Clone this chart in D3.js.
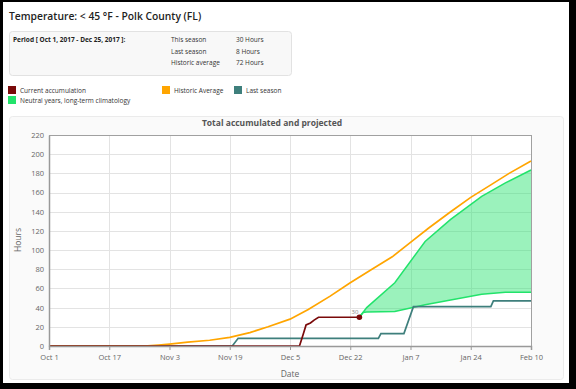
<!DOCTYPE html>
<html>
<head>
<meta charset="utf-8">
<script src="https://cdn.jsdelivr.net/npm/d3@7"></script>
<style>
  body { margin: 0; background: #000; }
  svg { display: block; font-family: "Open Sans", sans-serif; }
</style>
</head>
<body>
<div id="chart"></div>
<script>
// days counted from Oct 1, 2017
var tickDays = [0, 16.5, 33, 49.5, 66, 82.5, 99, 115.5, 132];
var tickLabels = ["Oct 1", "Oct 17", "Nov 3", "Nov 19", "Dec 5", "Dec 22", "Jan 7", "Jan 24", "Feb 10"];
var yTicks = [0, 20, 40, 60, 80, 100, 120, 140, 160, 180, 200, 220];

var historicDays = [0, 26, 30, 33, 38, 44, 49.5, 55, 60, 66, 71, 77, 82.5, 88, 94, 99, 104, 110, 115.5, 121, 126, 132];
var historicVals = [0, 0, 1, 2, 4, 6, 9, 14, 20, 28, 38, 52, 66, 79, 93, 108, 123, 140, 155, 168, 180, 193];

var currentDays = [0, 68.6, 69.6, 70.4, 71.6, 72.6, 73.8, 85];
var currentVals = [0, 0, 12, 22, 24, 27, 30, 30];

var lastDays = [0, 50.2, 51.8, 90.2, 90.9, 97.2, 99.8, 121, 121.7, 132];
var lastVals = [0, 0, 8, 8, 13, 13, 41, 41, 47, 47];

var climDays = [85, 86, 87, 94.7, 103, 110, 118.5, 125, 132];
var climLow = [30, 35, 35.5, 36, 43, 48, 54, 56, 56];
var climHigh = [30, 35, 40, 66, 109, 132, 156, 170, 183.5];

var summaryLabels = ["This season", "Last season", "Historic average"];
var summaryValues = ["30 Hours", "8 Hours", "72 Hours"];

var red = "#7a0a0a", orange = "#ffa500", teal = "#3e7f7c", green = "#22e36b";

var W = 576, H = 389;
var svg = d3.select("#chart").append("svg").attr("width", W).attr("height", H);

svg.append("rect").attr("width", W).attr("height", H).attr("fill", "#000");
svg.append("rect").attr("x", 3).attr("y", 2).attr("width", 566).attr("height", 381).attr("fill", "#fff");

svg.append("text").attr("x", 9).attr("y", 20)
  .attr("font-size", 10.3).attr("font-weight", 600).attr("fill", "#222")
  .text("Temperature: < 45 °F - Polk County (FL)");

// summary box
svg.append("rect").attr("x", 9.5).attr("y", 31.5).attr("width", 282).attr("height", 44)
  .attr("rx", 3).attr("fill", "#f8f8f8").attr("stroke", "#e2e2e2");
svg.append("text").attr("x", 13).attr("y", 42).attr("font-size", 6.5).attr("font-weight", 700)
  .attr("fill", "#222").text("Period [ Oct 1, 2017 - Dec 25, 2017 ]:");
summaryLabels.forEach(function(l, i) {
  svg.append("text").attr("x", 171).attr("y", 42 + i * 11.5).attr("font-size", 6.5).attr("fill", "#333").text(l);
  svg.append("text").attr("x", 236).attr("y", 42 + i * 11.5).attr("font-size", 6.5).attr("fill", "#333").text(summaryValues[i]);
});

// legend
var legend = [
  {c: red, t: "Current accumulation", x: 8, y: 86},
  {c: green, t: "Neutral years, long-term climatology", x: 8, y: 96},
  {c: orange, t: "Historic Average", x: 162, y: 86},
  {c: teal, t: "Last season", x: 234, y: 86}
];
legend.forEach(function(d) {
  svg.append("rect").attr("x", d.x).attr("y", d.y).attr("width", 8).attr("height", 8).attr("fill", d.c);
  svg.append("text").attr("x", d.x + 12).attr("y", d.y + 6.5).attr("font-size", 6.5).attr("fill", "#333").text(d.t);
});

// chart panel
svg.append("rect").attr("x", 9.5).attr("y", 116.5).attr("width", 554).attr("height", 263)
  .attr("rx", 3).attr("fill", "#fafafa").attr("stroke", "#ebebeb");
svg.append("text").attr("x", 272).attr("y", 126).attr("text-anchor", "middle")
  .attr("font-size", 8.5).attr("font-weight", 700).attr("fill", "#555")
  .text("Total accumulated and projected");

var m = {l: 49, r: 531, t: 135, b: 346};
var x = d3.scaleLinear().domain([0, 132]).range([m.l, m.r]);
var y = d3.scaleLinear().domain([0, 220]).range([m.b, m.t]);

svg.append("rect").attr("x", m.l).attr("y", m.t).attr("width", m.r - m.l).attr("height", m.b - m.t).attr("fill", "#fff");

var grid = svg.append("g").attr("stroke", "#e3e3e3").attr("stroke-width", 1);
grid.selectAll(".h").data(yTicks).enter().append("line")
  .attr("x1", m.l).attr("x2", m.r).attr("y1", function(d) { return Math.round(y(d)) + 0.5; }).attr("y2", function(d) { return Math.round(y(d)) + 0.5; });
grid.selectAll(".v").data(tickDays).enter().append("line")
  .attr("y1", m.t).attr("y2", m.b).attr("x1", function(d) { return Math.round(x(d)) + 0.5; }).attr("x2", function(d) { return Math.round(x(d)) + 0.5; });

// frame top/right
svg.append("rect").attr("x", m.l + 0.5).attr("y", m.t + 0.5).attr("width", m.r - m.l).attr("height", m.b - m.t)
  .attr("fill", "none").attr("stroke", "#a0a0a0");

function pts(days, vals) { return days.map(function(d, i) { return [d, vals[i]]; }); }

var line = d3.line().x(function(d) { return x(d[0]); }).y(function(d) { return y(d[1]); });

var climPts = climDays.map(function(d, i) { return [d, climLow[i], climHigh[i]]; });
var area = d3.area().x(function(d) { return x(d[0]); }).y0(function(d) { return y(d[1]); }).y1(function(d) { return y(d[2]); });

svg.append("path").datum(climPts).attr("d", area).attr("fill", green).attr("fill-opacity", 0.45);
svg.append("path").datum(pts(climDays, climHigh)).attr("d", line).attr("fill", "none").attr("stroke", green).attr("stroke-width", 1.5);
svg.append("path").datum(pts(climDays, climLow)).attr("d", line).attr("fill", "none").attr("stroke", green).attr("stroke-width", 1.5);

svg.append("path").datum(pts(lastDays, lastVals)).attr("d", line).attr("fill", "none").attr("stroke", teal).attr("stroke-width", 1.7);
svg.append("path").datum(pts(historicDays, historicVals)).attr("d", line).attr("fill", "none").attr("stroke", orange).attr("stroke-width", 1.7);
svg.append("path").datum(pts(currentDays, currentVals)).attr("d", line).attr("fill", "none").attr("stroke", red).attr("stroke-width", 1.7);

var lastI = currentDays.length - 1;
svg.append("circle").attr("cx", x(currentDays[lastI])).attr("cy", y(currentVals[lastI])).attr("r", 2.8).attr("fill", red);
svg.append("text").attr("x", x(currentDays[lastI]) - 1).attr("y", y(currentVals[lastI]) - 3)
  .attr("text-anchor", "end").attr("font-size", 6).attr("fill", "#888").text(currentVals[lastI]);

// axes
var xAxis = svg.append("g").attr("transform", "translate(0," + m.b + ")")
  .call(d3.axisBottom(x).tickValues(tickDays).tickFormat(function(d, i) { return tickLabels[i]; }).tickSize(4));
var yAxis = svg.append("g").attr("transform", "translate(" + m.l + ",0)")
  .call(d3.axisLeft(y).tickValues(yTicks).tickSize(0).tickPadding(5));
[xAxis, yAxis].forEach(function(a) {
  a.select(".domain").attr("stroke", "#999").attr("stroke-width", 1.5);
  a.selectAll(".tick line").attr("stroke", "#999");
  a.selectAll("text").attr("font-size", 7.5).attr("fill", "#666").attr("font-family", "Open Sans, sans-serif");
});
xAxis.selectAll("text").attr("dy", "0.9em");

svg.append("text").attr("x", 290).attr("y", 377).attr("text-anchor", "middle")
  .attr("font-size", 8.5).attr("fill", "#666").text("Date");
svg.append("text").attr("transform", "translate(21,240) rotate(-90)").attr("text-anchor", "middle")
  .attr("font-size", 8.5).attr("fill", "#666").text("Hours");
</script>
</body>
</html>
